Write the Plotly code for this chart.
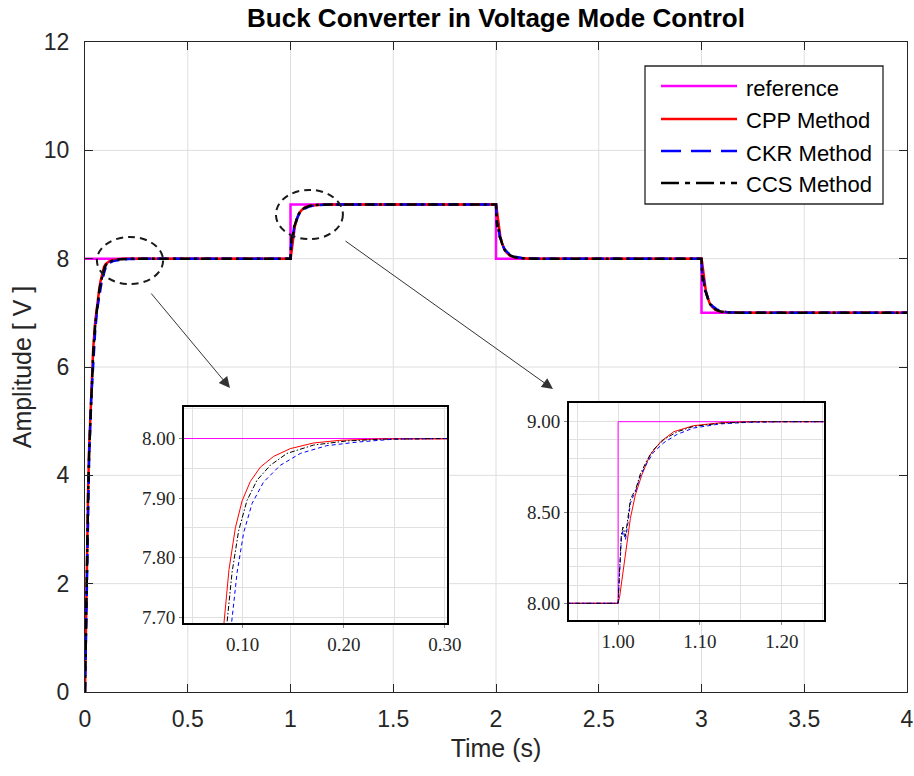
import plotly.graph_objects as go

# ---------------- data ----------------
t_ref = [0, 1, 2, 3, 4]
v_ref = [8, 9, 8, 7, 7]

t_cpp = [0, 0.005, 0.01, 0.015, 0.02, 0.03, 0.04, 0.05, 0.06, 0.07, 0.076, 0.0815, 0.0865, 0.0928,
         0.0994, 0.1076, 0.1175, 0.1306, 0.147, 0.170, 0.196, 0.235, 0.30, 0.50, 0.999,
         1.0, 1.002, 1.005, 1.009, 1.015, 1.021, 1.029, 1.039, 1.052, 1.068, 1.092, 1.125, 1.165, 1.5, 1.999,
         2.0, 2.002, 2.005, 2.009, 2.015, 2.021, 2.029, 2.039, 2.052, 2.068, 2.092, 2.125, 2.165, 2.5, 2.999,
         3.0, 3.002, 3.005, 3.009, 3.015, 3.021, 3.029, 3.039, 3.052, 3.068, 3.092, 3.125, 3.165, 3.5, 4.0]
v_cpp = [0, 1.5, 2.7, 3.7, 4.5, 5.6, 6.35, 6.85, 7.2, 7.46, 7.59, 7.694, 7.78, 7.85,
         7.895, 7.928, 7.952, 7.970, 7.983, 7.9925, 7.997, 7.9992, 8.0, 8.0, 8.0,
         8.0, 8.04, 8.14, 8.284, 8.468, 8.596, 8.707, 8.817, 8.890, 8.945, 8.978, 8.994, 9.0, 9.0, 9.0,
         9.0, 8.96, 8.86, 8.716, 8.532, 8.404, 8.293, 8.183, 8.110, 8.055, 8.022, 8.006, 8.0, 8.0, 8.0,
         8.0, 7.96, 7.86, 7.716, 7.532, 7.404, 7.293, 7.183, 7.110, 7.055, 7.022, 7.006, 7.0, 7.0, 7.0]

t_ckr = [0, 0.005, 0.01, 0.015, 0.02, 0.03, 0.04, 0.05, 0.06, 0.07, 0.08, 0.0895, 0.0945, 0.101,
         0.1093, 0.1207, 0.1372, 0.157, 0.183, 0.213, 0.25, 0.30, 0.50, 0.999,
         1.0, 1.002, 1.004, 1.006, 1.009, 1.012, 1.015, 1.018, 1.021, 1.027, 1.035, 1.043, 1.056, 1.072, 1.092, 1.125, 1.16, 1.2, 1.5, 1.999,
         2.0, 2.002, 2.004, 2.006, 2.009, 2.012, 2.015, 2.018, 2.021, 2.027, 2.035, 2.043, 2.056, 2.072, 2.092, 2.125, 2.16, 2.2, 2.5, 2.999,
         3.0, 3.002, 3.004, 3.006, 3.009, 3.012, 3.015, 3.018, 3.021, 3.027, 3.035, 3.043, 3.056, 3.072, 3.092, 3.125, 3.16, 3.2, 3.5, 4.0]
v_ckr = [0, 1.3, 2.5, 3.5, 4.3, 5.4, 6.15, 6.7, 7.08, 7.35, 7.55, 7.694, 7.775, 7.842,
         7.891, 7.927, 7.955, 7.975, 7.988, 7.994, 7.999, 8.0, 8.0, 8.0,
         8.0, 8.18, 8.36, 8.40, 8.35, 8.44, 8.55, 8.585, 8.61, 8.70, 8.77, 8.83, 8.885, 8.93, 8.965, 8.988, 8.997, 9.0, 9.0, 9.0,
         9.0, 8.82, 8.64, 8.60, 8.65, 8.56, 8.45, 8.415, 8.39, 8.30, 8.23, 8.17, 8.115, 8.07, 8.035, 8.012, 8.003, 8.0, 8.0, 8.0,
         8.0, 7.82, 7.64, 7.60, 7.65, 7.56, 7.45, 7.415, 7.39, 7.30, 7.23, 7.17, 7.115, 7.07, 7.035, 7.012, 7.003, 7.0, 7.0, 7.0]

t_ccs = [0, 0.005, 0.01, 0.015, 0.02, 0.03, 0.04, 0.05, 0.06, 0.07, 0.078, 0.0848, 0.0895, 0.096,
         0.1043, 0.1142, 0.1273, 0.1438, 0.170, 0.203, 0.24, 0.30, 0.50, 0.999,
         1.0, 1.002, 1.004, 1.006, 1.009, 1.012, 1.015, 1.018, 1.021, 1.027, 1.035, 1.043, 1.056, 1.072, 1.092, 1.125, 1.16, 1.2, 1.5, 1.999,
         2.0, 2.002, 2.004, 2.006, 2.009, 2.012, 2.015, 2.018, 2.021, 2.027, 2.035, 2.043, 2.056, 2.072, 2.092, 2.125, 2.16, 2.2, 2.5, 2.999,
         3.0, 3.002, 3.004, 3.006, 3.009, 3.012, 3.015, 3.018, 3.021, 3.027, 3.035, 3.043, 3.056, 3.072, 3.092, 3.125, 3.16, 3.2, 3.5, 4.0]
v_ccs = [0, 1.4, 2.6, 3.6, 4.4, 5.5, 6.25, 6.8, 7.15, 7.42, 7.58, 7.694, 7.775, 7.845,
         7.896, 7.930, 7.955, 7.975, 7.989, 7.996, 7.999, 8.0, 8.0, 8.0,
         8.0, 8.2, 8.38, 8.42, 8.37, 8.47, 8.57, 8.60, 8.62, 8.71, 8.785, 8.845, 8.902, 8.944, 8.974, 8.992, 8.999, 9.0, 9.0, 9.0,
         9.0, 8.8, 8.62, 8.58, 8.63, 8.53, 8.43, 8.40, 8.38, 8.29, 8.215, 8.155, 8.098, 8.056, 8.026, 8.008, 8.001, 8.0, 8.0, 8.0,
         8.0, 7.8, 7.62, 7.58, 7.63, 7.53, 7.43, 7.40, 7.38, 7.29, 7.215, 7.155, 7.098, 7.056, 7.026, 7.008, 7.001, 7.0, 7.0, 7.0]

series_names = ["reference", "CPP Method", "CKR Method", "CCS Method"]

x_ticks_main = [0, 0.5, 1, 1.5, 2, 2.5, 3, 3.5, 4]
x_ticklabels_main = ["0", "0.5", "1", "1.5", "2", "2.5", "3", "3.5", "4"]
y_ticks_main = [0, 2, 4, 6, 8, 10, 12]

inset1_xticks = [0.10, 0.20, 0.30]
inset1_xlabels = ["0.10", "0.20", "0.30"]
inset1_yticks = [7.70, 7.80, 7.90, 8.00]
inset1_ylabels = ["7.70", "7.80", "7.90", "8.00"]
inset2_xticks = [1.00, 1.10, 1.20]
inset2_xlabels = ["1.00", "1.10", "1.20"]
inset2_yticks = [8.00, 8.50, 9.00]
inset2_ylabels = ["8.00", "8.50", "9.00"]

# zoom-region callouts (data units: x0, x1, y0, y1)
callout1 = (0.058, 0.38, 7.53, 8.40)
callout2 = (0.929, 1.255, 8.36, 9.27)

# ---------------- layout geometry ----------------
W, H = 914, 776
ML, MR, MT, MB = 85, 7, 42, 84
PW, PH = W - ML - MR, H - MT - MB


def px_x(px):
    return (px - ML) / PW


def px_y(py):
    return (H - MB - py) / PH


in1_dom_x = [px_x(184), px_x(447)]
in1_dom_y = [px_y(623), px_y(407)]
in2_dom_x = [px_x(569), px_x(824)]
in2_dom_y = [px_y(620), px_y(403)]

colors = ["#ff00ff", "#ff0000", "#0000ff", "#000000"]
dash_main = [None, None, "10px,6px", "10px,4px,3px,4px"]
dash_inset = [None, None, "4px,3px", "5px,2px,1.5px,2px"]

data_sets = [(t_ref, v_ref), (t_cpp, v_cpp), (t_ckr, v_ckr), (t_ccs, v_ccs)]

fig = go.Figure()

for i, (tt, vv) in enumerate(data_sets):
    shape = "hv" if i == 0 else "linear"
    fig.add_trace(go.Scatter(x=tt, y=vv, mode="lines", name=series_names[i],
                             line=dict(color=colors[i], width=2.5, dash=dash_main[i], shape=shape),
                             showlegend=False, xaxis="x", yaxis="y"))
for ax in ["2", "3"]:
    for i, (tt, vv) in enumerate(data_sets):
        shape = "hv" if i == 0 else "linear"
        fig.add_trace(go.Scatter(x=tt, y=vv, mode="lines", name=series_names[i],
                                 line=dict(color=colors[i], width=1, dash=dash_inset[i], shape=shape),
                                 showlegend=False, xaxis="x" + ax, yaxis="y" + ax))

sans = "Liberation Sans, Arial, sans-serif"
tick_font = dict(family=sans, size=23, color="#262626")
serif_font = dict(family="Liberation Serif, Times New Roman, serif", size=19, color="#262626")


def inset_axis(dom, anchor, rng, tv, tt, minor_dt):
    return dict(domain=dom, anchor=anchor, range=rng, tickvals=tv, ticktext=tt,
                showgrid=True, gridcolor="#e0e0e0", zeroline=False,
                minor=dict(dtick=minor_dt, tick0=0, showgrid=True, gridcolor="#e0e0e0"),
                showline=True, linecolor="black", linewidth=2, mirror=True,
                ticks="outside", ticklen=3, tickcolor="#888", tickfont=serif_font,
                automargin=False)


fig.update_layout(
    width=W, height=H,
    margin=dict(l=ML, r=MR, t=MT, b=MB, autoexpand=False),
    paper_bgcolor="white", plot_bgcolor="white",
    showlegend=False,
    title=dict(text="<b>Buck Converter in Voltage Mode Control</b>",
               font=dict(family=sans, size=26, color="black"),
               x=px_x(496), xref="paper", xanchor="center",
               y=1 - 18 / H, yref="container", yanchor="middle", automargin=False),
    xaxis=dict(range=[0, 4], tickvals=x_ticks_main, ticktext=x_ticklabels_main,
               showgrid=False, zeroline=False, automargin=False,
               showline=True, linecolor="#262626", linewidth=1.3, mirror="ticks",
               ticks="inside", ticklen=8, tickcolor="#262626", tickwidth=1.3,
               tickfont=tick_font, ticklabelstandoff=6,
               title=dict(text="Time (s)", font=dict(family=sans, size=25, color="#262626"), standoff=8),
               domain=[0, 1]),
    yaxis=dict(range=[0, 12], tickvals=y_ticks_main,
               showgrid=False, zeroline=False, automargin=False,
               showline=True, linecolor="#262626", linewidth=1.3, mirror="ticks",
               ticks="inside", ticklen=8, tickcolor="#262626", tickwidth=1.3,
               tickfont=tick_font, ticklabelstandoff=10,
               title=dict(text="Amplitude [ V ]", font=dict(family=sans, size=25, color="#262626"), standoff=4),
               domain=[0, 1]),
    xaxis2=inset_axis(in1_dom_x, "y2", [0.042, 0.302], inset1_xticks, inset1_xlabels, 0.05),
    yaxis2=inset_axis(in1_dom_y, "x2", [7.69, 8.053], inset1_yticks, inset1_ylabels, 0.05),
    xaxis3=inset_axis(in2_dom_x, "y3", [0.94, 1.2516], inset2_xticks, inset2_xlabels, 0.05),
    yaxis3=inset_axis(in2_dom_y, "x3", [7.908, 9.103], inset2_yticks, inset2_ylabels, 0.1),
)

# main grid lines (drawn below everything, so insets can cover them)
for xv in x_ticks_main[1:-1]:
    fig.add_shape(type="line", xref="x", yref="paper", x0=xv, x1=xv, y0=0, y1=1,
                  line=dict(color="#dedede", width=1), layer="below")
for yv in y_ticks_main[1:-1]:
    fig.add_shape(type="line", xref="paper", yref="y", x0=0, x1=1, y0=yv, y1=yv,
                  line=dict(color="#dedede", width=1), layer="below")

# white panels under the insets
for dx, dy in [(in1_dom_x, in1_dom_y), (in2_dom_x, in2_dom_y)]:
    fig.add_shape(type="rect", xref="paper", yref="paper",
                  x0=dx[0], x1=dx[1], y0=dy[0], y1=dy[1],
                  fillcolor="white", line=dict(width=0), layer="below")

# dashed callout ellipses
for c in [callout1, callout2]:
    fig.add_shape(type="circle", xref="x", yref="y", x0=c[0], x1=c[1], y0=c[2], y1=c[3],
                  line=dict(color="#1a1a1a", width=2, dash="7px,5px"), layer="above")

# arrows
arrows = [((150, 292), (230, 388)), ((344, 240), (553, 389))]
for (tx, ty), (hx, hy) in arrows:
    fig.add_annotation(x=px_x(hx), y=px_y(hy), xref="paper", yref="paper",
                       ax=tx - hx, ay=ty - hy, axref="pixel", ayref="pixel",
                       text="", showarrow=True, arrowhead=2, arrowsize=2.2,
                       arrowwidth=1, arrowcolor="#333333")

# legend box (custom)
LX0, LX1, LY0, LY1 = 645, 883, 66, 204
fig.add_shape(type="rect", xref="paper", yref="paper",
              x0=px_x(LX0), x1=px_x(LX1), y0=px_y(LY1), y1=px_y(LY0),
              fillcolor="white", line=dict(color="#262626", width=1.3), layer="above")
row_y = [86, 119, 151, 183]
legend_dash = [None, None, "20px,10px", "18px,6px,5px,6px"]
for i, name in enumerate(series_names):
    fig.add_shape(type="line", xref="paper", yref="paper",
                  x0=px_x(661), x1=px_x(737), y0=px_y(row_y[i]), y1=px_y(row_y[i]),
                  line=dict(color=colors[i], width=2.5, dash=legend_dash[i]), layer="above")
    fig.add_annotation(x=px_x(744), y=px_y(row_y[i] + 2), xref="paper", yref="paper",
                       text=name, showarrow=False, xanchor="left", yanchor="middle",
                       font=dict(family=sans, size=22, color="black"))

fig.write_html("out.html")
